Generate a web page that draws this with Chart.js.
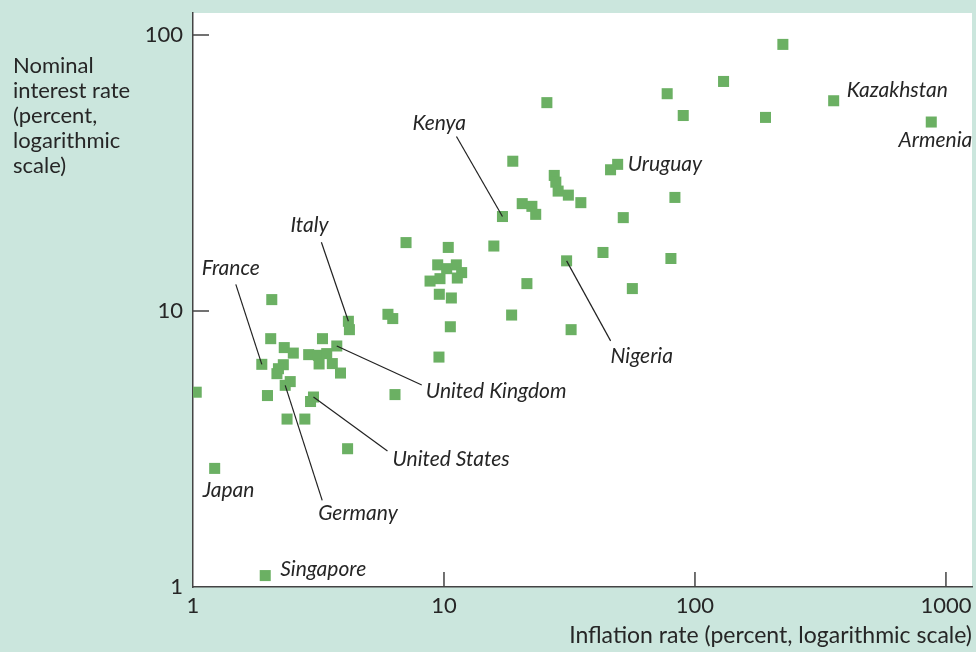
<!DOCTYPE html>
<html>
<head>
<meta charset="utf-8">
<script src="https://cdn.jsdelivr.net/npm/chart.js@4.4.1/dist/chart.umd.min.js"></script>
<style>
    html, body { margin: 0; padding: 0; background: #cbe6dd; }
    #wrap { width: 976px; height: 652px; }
</style>
</head>
<body>
<div id="wrap"><canvas id="rateChart" width="976" height="652"></canvas></div>
<script>
// inflation rate (%) and nominal interest rate (%), one entry per country
const inflation = [
    2.06, 2.04, 2.31, 2.51, 1.88, 2.29, 2.19, 2.16, 2.44, 2.33,
    1.98, 1.03, 3.02, 2.94, 2.37, 2.79, 4.13, 1.22, 1.94, 3.28,
    3.74, 2.89, 3.16, 3.41, 3.18, 3.59, 3.87, 4.16, 4.20, 5.98,
    6.25, 6.38, 9.58, 10.7, 10.6, 9.55, 25.7, 77.5, 89.8, 18.8,
    49.2, 46.1, 27.5, 27.9, 28.5, 31.3, 35.1, 20.5, 22.4, 23.2,
    17.1, 83.2, 51.8, 7.06, 10.4, 15.8, 30.8, 43.0, 80.2, 9.44,
    11.2, 10.25, 11.76, 8.80, 9.64, 11.3, 21.4, 56.3, 18.6, 32.1,
    224, 130, 191, 357, 874
];
const interest = [
    11.0, 7.94, 7.37, 7.04, 6.41, 6.39, 6.18, 5.93, 5.55, 5.38,
    4.94, 5.08, 4.88, 4.70, 4.06, 4.06, 3.17, 2.69, 1.10, 7.94,
    7.47, 6.95, 6.91, 7.01, 6.43, 6.45, 5.96, 9.18, 8.56, 9.73,
    9.39, 4.98, 11.5, 11.15, 8.77, 6.81, 56.9, 61.3, 51.1, 34.9,
    34.0, 32.5, 31.0, 29.3, 27.2, 26.3, 24.7, 24.5, 23.95, 22.4,
    22.0, 25.8, 21.8, 17.7, 17.0, 17.2, 15.2, 16.3, 15.5, 14.7,
    14.7, 14.24, 13.78, 12.84, 13.1, 13.17, 12.57, 12.06, 9.67, 8.56,
    92.5, 67.9, 50.3, 57.8, 48.4
];
const xTicks = [1, 10, 100, 1000];
const yTicks = [1, 10, 100];
const xTitle = 'Inflation rate (percent, logarithmic scale)';
const yTitle = ['Nominal', 'interest rate', '(percent,', 'logarithmic', 'scale)'];

// named countries: index into the arrays above, text and leader line offsets in px
const callouts = [
    { name: 'Kenya', i: 50, text: [-90, -87], line: [-46, -80] },
    { name: 'Uruguay', i: 40, text: [10, 7] },
    { name: 'Kazakhstan', i: 73, text: [13, -4] },
    { name: 'Armenia', i: 74, text: [41, 25], align: 'right' },
    { name: 'Italy', i: 27, text: [-58, -89], line: [-27, -79] },
    { name: 'France', i: 4, text: [-60, -89], line: [-26, -80] },
    { name: 'United Kingdom', i: 20, text: [89, 52], line: [85, 39] },
    { name: 'United States', i: 12, text: [79, 69], line: [74, 54] },
    { name: 'Japan', i: 17, text: [-12, 29] },
    { name: 'Germany', i: 9, text: [33, 135], line: [37, 115] },
    { name: 'Singapore', i: 18, text: [15, 0] },
    { name: 'Nigeria', i: 56, text: [44, 102], line: [44, 80] }
];

const FONT = 'Lato, "Open Sans", sans-serif';
const INK = '#262626';

const backdrop = {
    id: 'backdrop',
    beforeDraw(chart) {
        const { ctx, chartArea: a } = chart;
        ctx.save();
        ctx.fillStyle = '#cbe6dd';
        ctx.fillRect(0, 0, chart.width, chart.height);
        ctx.fillStyle = '#ffffff';
        ctx.fillRect(a.left, a.top, a.right - a.left, a.bottom - a.top);
        ctx.restore();
    }
};

const innerTicks = {
    id: 'innerTicks',
    afterDraw(chart) {
        const { ctx, chartArea: a, scales } = chart;
        ctx.save();
        ctx.strokeStyle = '#444';
        ctx.lineWidth = 1.5;
        ctx.beginPath();
        xTicks.slice(1).forEach(v => {
            const x = scales.x.getPixelForValue(v);
            ctx.moveTo(x, a.bottom);
            ctx.lineTo(x, a.bottom - 15);
        });
        yTicks.slice(1).forEach(v => {
            const y = scales.y.getPixelForValue(v);
            ctx.moveTo(a.left, y);
            ctx.lineTo(a.left + 16, y);
        });
        ctx.stroke();

        ctx.fillStyle = INK;
        ctx.font = `22px ${FONT}`;
        ctx.textAlign = 'left';
        ctx.textBaseline = 'alphabetic';
        yTitle.forEach((line, k) => ctx.fillText(line, 13, 73 + k * 25));
        ctx.restore();
    }
};

const countryLabels = {
    id: 'countryLabels',
    afterDatasetsDraw(chart) {
        const { ctx, scales } = chart;
        ctx.save();
        ctx.strokeStyle = '#222';
        ctx.lineWidth = 1.2;
        ctx.fillStyle = INK;
        ctx.font = `italic 21px ${FONT}`;
        ctx.textBaseline = 'alphabetic';
        callouts.forEach(c => {
            const px = scales.x.getPixelForValue(inflation[c.i]);
            const py = scales.y.getPixelForValue(interest[c.i]);
            if (c.line) {
                ctx.beginPath();
                ctx.moveTo(px, py);
                ctx.lineTo(px + c.line[0], py + c.line[1]);
                ctx.stroke();
            }
            ctx.textAlign = c.align || 'left';
            ctx.fillText(c.name, px + c.text[0], py + c.text[1]);
        });
        ctx.restore();
    }
};

function noEdgePadding(s) {
    s.paddingTop = 0;
    s.paddingBottom = 0;
    s.paddingLeft = 0;
    s.paddingRight = 0;
}

function renderChart() {
    const ctx = document.getElementById('rateChart').getContext('2d');
    new Chart(ctx, {
        type: 'scatter',
        data: {
            datasets: [{
                data: inflation.map((x, k) => ({ x: x, y: interest[k] })),
                pointStyle: 'rect',
                pointRadius: 7.8,
                pointHoverRadius: 7.8,
                backgroundColor: '#6bb063',
                borderWidth: 0
            }]
        },
        options: {
            responsive: false,
            animation: false,
            layout: { autoPadding: false, padding: { left: 0, right: 4, top: 13, bottom: 0 } },
            plugins: { legend: { display: false }, tooltip: { enabled: false } },
            scales: {
                x: {
                    type: 'logarithmic',
                    min: 1,
                    max: 1270,
                    afterBuildTicks: s => { s.ticks = xTicks.map(v => ({ value: v })); },
                    afterFit: s => { s.height = 65; noEdgePadding(s); },
                    grid: { display: false, drawTicks: false },
                    border: { display: true, color: '#444', width: 1.5 },
                    ticks: {
                        autoSkip: false,
                        maxRotation: 0,
                        padding: 6,
                        color: INK,
                        font: { family: FONT, size: 22 },
                        callback: v => String(v)
                    },
                    title: {
                        display: true,
                        text: xTitle,
                        align: 'end',
                        color: INK,
                        font: { family: FONT, size: 23 },
                        padding: { top: 0, bottom: 3 }
                    }
                },
                y: {
                    type: 'logarithmic',
                    min: 1,
                    max: 120.2,
                    afterBuildTicks: s => { s.ticks = yTicks.map(v => ({ value: v })); },
                    afterFit: s => { s.width = 193; noEdgePadding(s); },
                    grid: { display: false, drawTicks: false },
                    border: { display: true, color: '#444', width: 1.5 },
                    ticks: {
                        autoSkip: false,
                        padding: 10,
                        color: INK,
                        font: { family: FONT, size: 22 },
                        callback: v => String(v)
                    }
                }
            }
        },
        plugins: [backdrop, innerTicks, countryLabels]
    });
}

document.addEventListener('DOMContentLoaded', renderChart);
</script>
</body>
</html>
